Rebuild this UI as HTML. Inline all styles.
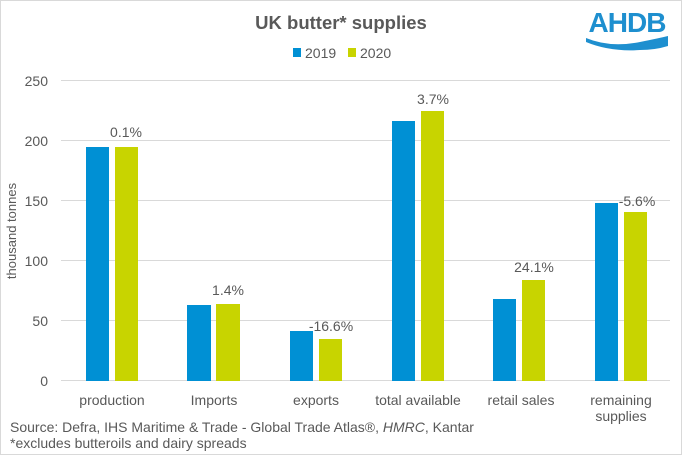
<!DOCTYPE html>
<html><head><style>body{margin:0;background:#fff}</style></head><body>
<svg width="682" height="455" xmlns="http://www.w3.org/2000/svg" font-family="Liberation Sans, sans-serif" fill="#595959">
<rect x="0.5" y="0.5" width="681" height="454" fill="#fff" stroke="#d9d9d9"/>
<text x="341" y="29" text-anchor="middle" font-size="18.5" font-weight="bold" fill="#595959">UK butter* supplies</text>
<rect x="293" y="48" width="8" height="9" fill="#0090d4"/><text x="305" y="58" font-size="14">2019</text>
<rect x="348" y="48" width="8" height="9" fill="#c8d400"/><text x="360" y="58" font-size="14">2020</text>
<text x="627" y="32" text-anchor="middle" font-size="28" font-weight="bold" fill="#1e8fcf" letter-spacing="-1">AHDB</text>
<path d="M586 38 Q610 48 640 42 Q660 38 668 36 L668 46 Q655 50 640 50 Q610 52 586 42 Z" fill="#1e8fcf"/>
<g stroke="#d9d9d9" stroke-width="1">
<line x1="61" x2="670" y1="80.5" y2="80.5"/><line x1="61" x2="670" y1="140.5" y2="140.5"/>
<line x1="61" x2="670" y1="200.5" y2="200.5"/><line x1="61" x2="670" y1="260.5" y2="260.5"/>
<line x1="61" x2="670" y1="320.5" y2="320.5"/><line x1="61" x2="670" y1="380.5" y2="380.5"/>
</g>
<g font-size="14" text-anchor="end">
<text x="48" y="86">250</text><text x="48" y="146">200</text><text x="48" y="206">150</text>
<text x="48" y="266">100</text><text x="48" y="326">50</text><text x="48" y="386">0</text>
</g>
<text transform="translate(16,231) rotate(-90)" text-anchor="middle" font-size="13">thousand tonnes</text>
<g fill="#0090d4">
<rect x="86" y="147" width="23" height="234"/>
<rect x="187" y="305" width="24" height="76"/>
<rect x="290" y="331" width="23" height="50"/>
<rect x="392" y="121" width="23" height="260"/>
<rect x="493" y="299" width="23" height="82"/>
<rect x="595" y="203" width="23" height="178"/>
</g>
<g fill="#c8d400">
<rect x="115" y="147" width="23" height="234"/>
<rect x="216" y="304" width="24" height="77"/>
<rect x="319" y="339" width="23" height="42"/>
<rect x="421" y="111" width="23" height="270"/>
<rect x="522" y="280" width="23" height="101"/>
<rect x="624" y="212" width="23" height="169"/>
</g>
<g font-size="14" text-anchor="middle">
<text x="126" y="137">0.1%</text><text x="228" y="295">1.4%</text>
<text x="331" y="331">-16.6%</text><text x="433" y="104">3.7%</text>
<text x="534" y="272">24.1%</text><text x="637" y="206">-5.6%</text>
<text x="112" y="405">production</text><text x="214" y="405">Imports</text>
<text x="316" y="405">exports</text><text x="418" y="405">total available</text>
<text x="521" y="405">retail sales</text><text x="621" y="405">remaining</text>
<text x="621" y="421">supplies</text>
</g>
<text x="10" y="432" font-size="14">Source: Defra, IHS Maritime &amp; Trade - Global Trade Atlas®, <tspan font-style="italic">HMRC</tspan>, Kantar</text>
<text x="10" y="448" font-size="14">*excludes butteroils and dairy spreads</text>
</svg>
</body></html>
